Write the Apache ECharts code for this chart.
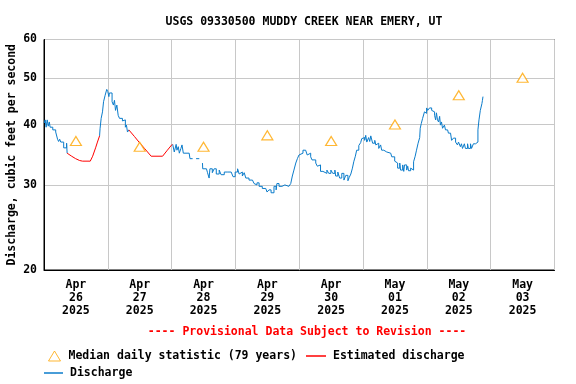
<!DOCTYPE html>
<html><head><meta charset="utf-8">
<script src="https://cdn.jsdelivr.net/npm/echarts@6/dist/echarts.min.js"></script>
<style>html,body{margin:0;padding:0;background:#fff}#c{width:576px;height:384px}</style>
</head><body><div id="c"></div><script>
// x values are hours since 2025-04-26 00:00
var dayLabels = ['Apr\n26\n2025','Apr\n27\n2025','Apr\n28\n2025','Apr\n29\n2025','Apr\n30\n2025','May\n01\n2025','May\n02\n2025','May\n03\n2025'];
var yTicks = [20, 30, 40, 50, 60];

var medianHours = [12, 36, 60, 84, 108, 132, 156, 180];
var medianCfs = [37, 36, 36, 38, 37, 40, 46, 50];

var dischargeHours = [
 0.1,0.45,0.8,1.2,1.6,2.0,2.3,2.9,3.3,4.0,4.4,4.8,5.1,5.5,5.9,6.3,6.6,7.0,7.4,8.1,8.5,8.7,
 8.71,
 20.9,21.1,21.5,22.0,22.4,23.0,23.6,24.0,24.4,24.6,25.0,25.6,26.1,26.5,26.9,27.4,27.9,28.4,29.1,29.5,29.9,30.6,31.0,31.4,31.9,
 31.91,
 48.4,49.0,49.7,50.0,50.5,50.9,51.5,51.9,52.4,54.6,54.9,55.9,
 55.91,
 57.2,58.4,
 58.41,
 59.6,59.7,61.1,61.5,62.1,62.4,63.3,64.0,64.8,65.9,66.6,67.8,68.9,70.4,71.1,71.9,72.8,73.4,73.8,74.6,75.3,75.9,
 77.1,78.4,79.0,79.7,80.1,80.9,82.1,83.4,83.9,84.6,85.4,86.5,87.3,87.6,88.4,89.5,90.6,92.1,92.8,93.4,94.0,94.7,
 95.3,95.9,96.5,97.4,98.4,99.0,99.6,100.3,100.8,101.5,102.2,102.8,103.4,104.0,104.9,105.6,106.4,107.1,107.9,108.6,
 109.4,109.7,110.5,111.2,112.0,112.8,113.5,114.3,114.8,115.4,116.0,116.5,117.1,117.6,118.4,119.1,119.5,119.9,120.6,
 121.0,121.4,122.1,122.5,122.9,123.6,124.4,124.8,125.5,125.9,126.6,127.0,127.8,128.1,128.9,129.6,130.4,130.8,131.5,
 131.9,132.6,133.0,133.8,134.1,134.9,135.3,135.6,136.4,136.8,137.1,137.9,138.3,139.0,139.6,140.1,140.7,141.3,141.5,
 141.9,142.4,143.1,143.5,143.9,144.3,145.0,145.8,146.5,146.9,147.3,147.6,148.0,148.4,148.8,149.1,149.5,149.9,150.6,
 151.0,151.8,152.1,152.9,153.3,154.0,154.8,155.5,155.9,156.6,157.0,157.4,158.1,158.5,159.3,159.6,160.4,160.8,161.5,
 162.3,162.6,163.2,163.6,164.0,164.1,164.5,164.7,164.9,165.1,165.11
];
var dischargeCfs = [
 40.3,40.9,39.5,40.9,39.7,40.5,39.5,39.5,39.0,39.0,38.6,38.4,37.3,36.9,37.3,36.8,37.1,36.8,35.8,35.8,36.6,34.9,
 null,
 37.9,39.3,41.2,42.5,44.6,46.0,47.3,46.8,45.7,46.5,46.5,44.6,43.9,44.9,42.8,43.9,41.8,41.2,41.2,40.7,40.9,39.5,39.9,38.6,39.0,
 null,
 36.4,35.1,36.4,35.4,36.0,34.9,35.7,36.3,34.9,34.9,34.0,34.0,
 null,
 34.0,34.0,
 null,
 33.3,32.4,32.4,31.8,31.0,32.4,31.8,32.4,31.6,32.2,31.5,31.9,31.9,31.7,31.2,31.9,32.4,31.6,31.9,31.3,31.8,31.0,
 30.7,30.5,30.2,30.0,30.3,29.8,29.5,29.5,29.0,29.3,28.9,29.8,29.3,30.2,29.8,30.0,29.8,29.8,30.2,31.3,32.2,33.3,
 34.0,34.6,34.9,35.4,35.4,34.6,34.9,34.3,33.8,33.8,33.3,32.8,33.0,32.0,32.2,31.7,32.2,31.7,32.2,31.7,
 32.2,31.3,31.9,31.0,31.7,30.7,31.4,30.6,31.1,31.6,32.5,33.5,34.4,35.4,36.2,36.7,37.4,37.6,37.1,
 38.0,36.8,37.6,36.9,37.9,36.6,37.1,36.3,36.6,35.7,36.3,35.4,35.7,35.1,35.4,34.9,34.9,34.3,34.3,
 33.6,33.3,32.5,33.3,32.2,33.0,32.0,33.0,32.2,32.8,32.1,32.5,32.2,33.5,34.4,35.4,36.6,37.6,39.3,
 40.2,41.2,42.5,42.2,43.3,42.8,43.3,42.8,42.5,41.8,40.9,42.3,40.9,40.5,41.6,39.9,40.5,39.3,39.9,
 39.0,39.3,38.4,38.6,37.1,37.5,36.8,36.3,36.8,36.0,36.5,35.7,36.5,35.7,36.5,35.7,36.5,35.7,36.5,
 36.5,36.8,39.0,40.9,41.2,42.8,42.6,44.2,44.9,45.7,null
];

var estimatedHours = [8.7,10.4,11.9,13.4,14.5,17.4,18.3,19.4,20.1,20.9, 26, 31.9,34.0,35.9,37.8,40.3,44.6,46.4,48.2];
var estimatedCfs   = [34.9,34.4,34.0,33.7,33.6,33.6,34.4,35.8,36.8,37.9, null, 39.0,37.8,36.7,35.7,34.4,34.4,35.4,36.4];

function zip(a, b) { return a.map(function (x, i) { return [x, b[i]]; }); }

var FONT = 'DejaVu Sans Mono';
var TXT = {fontFamily: FONT, fontSize: 11.5, fontWeight: 'bold', color: '#000'};
var LEG_TXT = {fontFamily: FONT, fontSize: 11.5, fontWeight: 'bold', color: '#000', padding: [0, 0, 0, 2]};
var chart = echarts.init(document.getElementById('c'), null, {renderer: 'canvas'});
chart.setOption({
  animation: false,
  backgroundColor: '#fff',
  title: [{
    text: 'USGS 09330500 MUDDY CREEK NEAR EMERY, UT',
    left: 299, top: 11, textAlign: 'center',
    textStyle: TXT
  }, {
    text: '---- Provisional Data Subject to Revision ----',
    left: 302, top: 321, textAlign: 'center',
    textStyle: {fontFamily: FONT, fontSize: 11.5, fontWeight: 'bold', color: '#ff0000'}
  }],
  grid: {left: 44, right: 21.5, top: 39.5, bottom: 114, outerBoundsMode: 'none', containLabel: false,
         show: true, borderColor: '#000', borderWidth: 1, backgroundColor: 'transparent'},
  legend: [{
    left: 48, top: 350, itemWidth: 12, itemHeight: 10, padding: 0,
    data: [{name: 'Median daily statistic (79 years)', icon: 'triangle',
            itemStyle: {color: '#fff', borderColor: '#ffa500', borderWidth: 1}}],
    textStyle: {fontFamily: FONT, fontSize: 11.5, fontWeight: 'bold', color: '#000', padding: [0, 0, 0, 3]}
  }, {
    left: 306, top: 350, itemWidth: 20, itemHeight: 1.5, padding: 0,
    data: [{name: 'Estimated discharge', icon: 'rect', itemStyle: {color: '#ff0000'}}],
    textStyle: LEG_TXT
  }, {
    left: 44, top: 367, itemWidth: 19, itemHeight: 1.5, padding: 0,
    data: [{name: 'Discharge', icon: 'rect', itemStyle: {color: '#0b7ccb'}}],
    textStyle: LEG_TXT
  }],
  xAxis: {
    type: 'value', min: 0, max: 192, interval: 24,
    axisLine: {show: true, lineStyle: {color: '#000'}},
    axisTick: {show: false},
    splitLine: {show: true, lineStyle: {color: '#c8c8c8', width: 1}},
    axisLabel: {
      customValues: medianHours,
      formatter: function (v) { return dayLabels[Math.round((v - 12) / 24)]; },
      fontFamily: FONT, fontSize: 11.5, fontWeight: 'bold', color: '#000', lineHeight: 13, margin: 9
    }
  },
  yAxis: {
    type: 'log', logBase: 10, min: 20, max: 60,
    name: 'Discharge, cubic feet per second', nameLocation: 'middle', nameGap: 26, nameMoveOverlap: false,
    nameTextStyle: TXT,
    axisLine: {show: true, lineStyle: {color: '#000'}},
    axisTick: {show: false, customValues: yTicks},
    splitLine: {show: true, lineStyle: {color: '#c8c8c8', width: 1}},
    axisLabel: {customValues: yTicks, fontFamily: FONT, fontSize: 11.5, fontWeight: 'bold', color: '#000', margin: 7}
  },
  series: [{
    name: 'Discharge', type: 'line', data: zip(dischargeHours, dischargeCfs),
    symbol: 'none', step: 'end', connectNulls: false, color: '#0b7ccb',
    lineStyle: {color: '#0b7ccb', width: 1}, z: 3
  }, {
    name: 'Estimated discharge', type: 'line', data: zip(estimatedHours, estimatedCfs),
    symbol: 'none', connectNulls: false, color: '#ff0000',
    lineStyle: {color: '#ff0000', width: 1}, z: 3
  }, {
    name: 'Median daily statistic (79 years)', type: 'scatter', data: zip(medianHours, medianCfs),
    symbol: 'triangle', symbolSize: [11, 9],
    itemStyle: {color: '#fff', borderColor: '#ffa500', borderWidth: 1.2}, z: 4
  }]
});
</script></body></html>
